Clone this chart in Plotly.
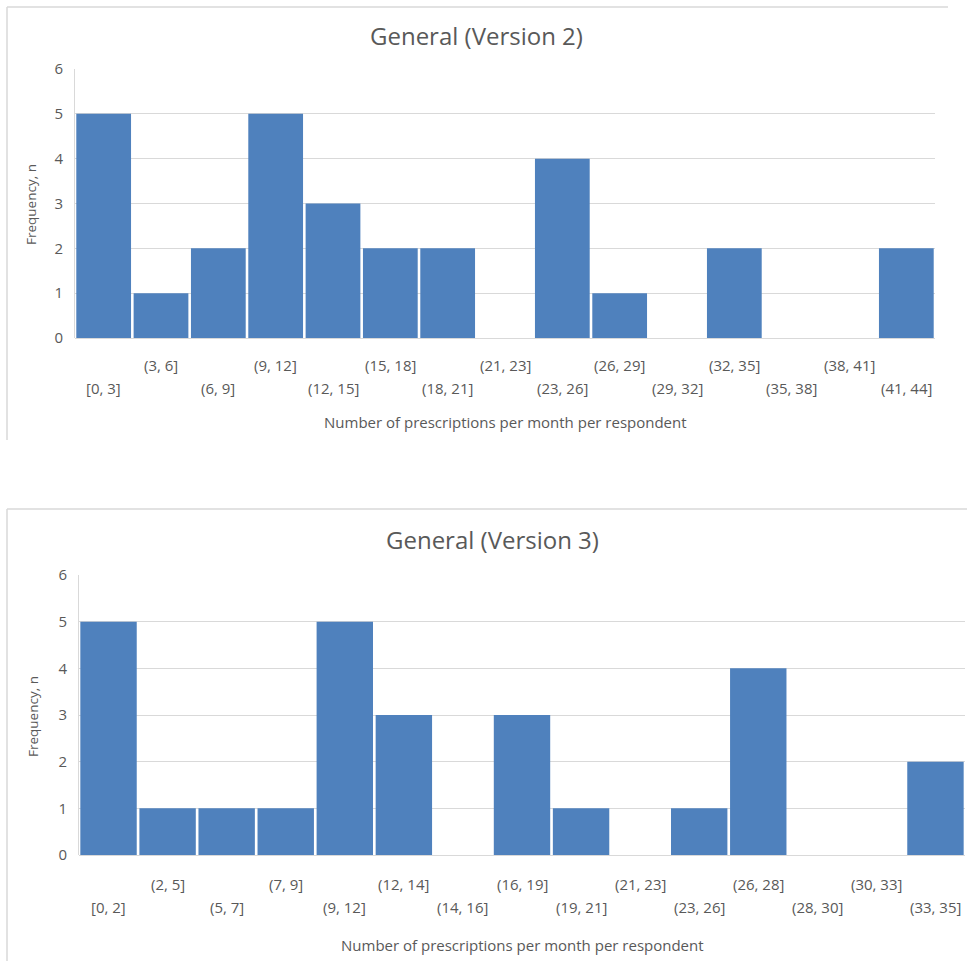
import plotly.graph_objects as go

# ---- data ----
v2_bins = ["[0, 3]", "(3, 6]", "(6, 9]", "(9, 12]", "(12, 15]", "(15, 18]", "(18, 21]",
           "(21, 23]", "(23, 26]", "(26, 29]", "(29, 32]", "(32, 35]", "(35, 38]",
           "(38, 41]", "(41, 44]"]
v2_counts = [5, 1, 2, 5, 3, 2, 2, 0, 4, 1, 0, 2, 0, 0, 2]

v3_bins = ["[0, 2]", "(2, 5]", "(5, 7]", "(7, 9]", "(9, 12]", "(12, 14]", "(14, 16]",
           "(16, 19]", "(19, 21]", "(21, 23]", "(23, 26]", "(26, 28]", "(28, 30]",
           "(30, 33]", "(33, 35]"]
v3_counts = [5, 1, 1, 1, 5, 3, 0, 3, 1, 0, 1, 4, 0, 0, 2]

titles = ["General (Version 2)", "General (Version 3)"]
x_title = "Number of prescriptions per month per respondent"
y_title = "Frequency, n"
y_ticks = [0, 1, 2, 3, 4, 5, 6]

# ---- style ----
W, H = 967, 961
FONT = "Open Sans"
TXT = "#595959"
BAR = "#4F81BD"
GRID = "#D9D9D9"

def px_x(p):
    return p / W

def px_y(p):
    return 1 - p / H

fig = go.Figure()
fig.add_trace(go.Bar(x=v2_bins, y=v2_counts, marker=dict(color=BAR, line=dict(width=0)),
                     xaxis="x", yaxis="y", showlegend=False, hoverinfo="x+y"))
fig.add_trace(go.Bar(x=v3_bins, y=v3_counts, marker=dict(color=BAR, line=dict(width=0)),
                     xaxis="x2", yaxis="y2", showlegend=False, hoverinfo="x+y"))

common_x = dict(type="category", showticklabels=False, showgrid=False, zeroline=False,
                showline=False, ticks="", range=[-0.5, 14.5], fixedrange=True, automargin=False)
common_y = dict(range=[0, 6], tickvals=y_ticks, showgrid=True, gridcolor=GRID, gridwidth=1,
                zeroline=True, zerolinecolor=GRID, zerolinewidth=1,
                showline=True, linecolor=GRID, linewidth=1, ticks="",
                tickfont=dict(family=FONT, size=15, color=TXT), ticklabelstandoff=8,
                fixedrange=True, automargin=False)

fig.update_layout(
    width=W, height=H, margin=dict(l=0, r=0, t=0, b=0, pad=0, autoexpand=False),
    paper_bgcolor="white", plot_bgcolor="white",
    bargap=0.045,
    font=dict(family=FONT, color=TXT),
    xaxis=dict(domain=[px_x(75), px_x(935)], anchor="y", **common_x),
    yaxis=dict(domain=[px_y(338), px_y(69)], anchor="x", **common_y),
    xaxis2=dict(domain=[px_x(79), px_x(965)], anchor="y2", **common_x),
    yaxis2=dict(domain=[px_y(855), px_y(575)], anchor="x2", **common_y),
)

ann = []
# category labels, staggered in two rows
for xr, yr, bins, s1, s2 in [("x", "y", v2_bins, -27, -50), ("x2", "y2", v3_bins, -29, -52)]:
    for i, b in enumerate(bins):
        ann.append(dict(x=b, y=0, xref=xr, yref=yr, text=b, showarrow=False,
                        yshift=(s2 if i % 2 == 0 else s1), xanchor="center", yanchor="middle",
                        font=dict(family=FONT, size=15, color=TXT)))

# titles
ann.append(dict(x=px_x(476.5), y=px_y(35), xref="paper", yref="paper", text=titles[0],
                showarrow=False, xanchor="center", yanchor="middle",
                font=dict(family=FONT, size=24, color=TXT)))
ann.append(dict(x=px_x(492.5), y=px_y(539), xref="paper", yref="paper", text=titles[1],
                showarrow=False, xanchor="center", yanchor="middle",
                font=dict(family=FONT, size=24, color=TXT)))
# axis titles
ann.append(dict(x=px_x(505), y=px_y(422), xref="paper", yref="paper", text=x_title,
                showarrow=False, xanchor="center", yanchor="middle",
                font=dict(family=FONT, size=15, color=TXT)))
ann.append(dict(x=px_x(522), y=px_y(945), xref="paper", yref="paper", text=x_title,
                showarrow=False, xanchor="center", yanchor="middle",
                font=dict(family=FONT, size=15, color=TXT)))
ann.append(dict(x=px_x(31), y=px_y(205), xref="paper", yref="paper", text=y_title,
                showarrow=False, xanchor="center", yanchor="middle", textangle=-90,
                font=dict(family=FONT, size=13.5, color=TXT)))
ann.append(dict(x=px_x(33), y=px_y(717), xref="paper", yref="paper", text=y_title,
                showarrow=False, xanchor="center", yanchor="middle", textangle=-90,
                font=dict(family=FONT, size=13.5, color=TXT)))
fig.update_layout(annotations=ann)

# chart-area borders
shapes = [
    dict(type="line", xref="paper", yref="paper", x0=px_x(7), x1=px_x(948), y0=px_y(7), y1=px_y(7),
         line=dict(color=GRID, width=1.5)),
    dict(type="line", xref="paper", yref="paper", x0=px_x(7), x1=px_x(7), y0=px_y(7), y1=px_y(440),
         line=dict(color=GRID, width=1.5)),
    dict(type="line", xref="paper", yref="paper", x0=px_x(7), x1=px_x(967), y0=px_y(509), y1=px_y(509),
         line=dict(color=GRID, width=1.5)),
    dict(type="line", xref="paper", yref="paper", x0=px_x(7), x1=px_x(7), y0=px_y(509), y1=px_y(961),
         line=dict(color=GRID, width=1.5)),
]
fig.update_layout(shapes=shapes)

fig.write_html(
    "out.html",
    config={"displayModeBar": False},
    post_script="document.body.style.margin='0';document.body.style.overflow='hidden';",
)
